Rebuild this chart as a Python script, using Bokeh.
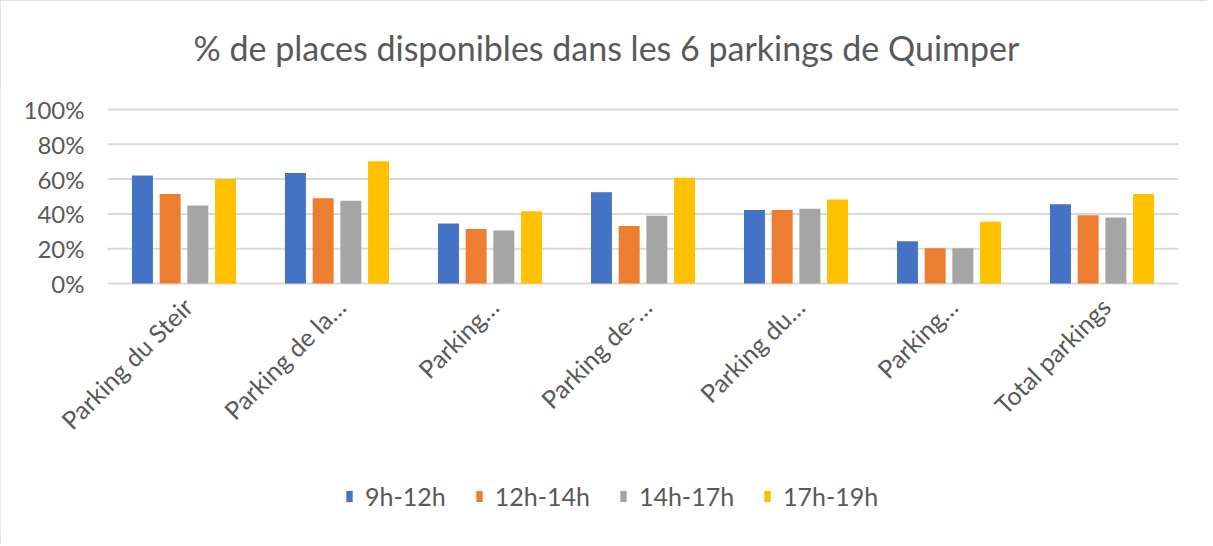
import math
from bokeh.plotting import figure
from bokeh.models import Range1d, Legend, LegendItem
from bokeh.core.properties import value
from bokeh.embed import file_html
from bokeh.resources import INLINE

title_text = "% de places disponibles dans les 6 parkings de Quimper"
categories = ["Parking du Steir", "Parking de la…", "Parking…", "Parking de-…",
              "Parking du…", "Parking…", "Total parkings"]
series_names = ["9h-12h", "12h-14h", "14h-17h", "17h-19h"]
v_9_12 = [0.62, 0.635, 0.345, 0.525, 0.423, 0.243, 0.456]
v_12_14 = [0.515, 0.49, 0.313, 0.33, 0.423, 0.203, 0.392]
v_14_17 = [0.448, 0.475, 0.305, 0.39, 0.43, 0.203, 0.38]
v_17_19 = [0.60, 0.703, 0.415, 0.608, 0.483, 0.355, 0.515]
y_ticks = [0, 0.2, 0.4, 0.6, 0.8, 1.0]
y_tick_labels = ["0%", "20%", "40%", "60%", "80%", "100%"]

colors = ["#4472C4", "#ED7D31", "#A5A5A5", "#FFC000"]
FONT = "Lato"
TXT = "#595959"
GRID = "#D9D9D9"

n = len(categories)
x_lo, x_hi = -0.5, n - 0.5
# the frame covers the whole chart area; value axis 0..1 occupies its upper part
p = figure(width=1207, height=544, output_backend="svg", toolbar_location=None,
           x_range=Range1d(x_lo - 0.6993, x_hi + 0.1895),
           y_range=Range1d(-1.4195, 1.1207),
           min_border_left=0, min_border_right=0, min_border_top=88,
           min_border_bottom=14, title=title_text)
p.styles = {"outline": "1px solid #D9D9D9", "outline-offset": "-1px"}

p.title.text_font = FONT
p.title.text_font_size = "34px"
p.title.text_font_style = "normal"
p.title.text_color = TXT
p.title.align = "left"
p.title.offset = 193
p.title.standoff = 42

p.outline_line_color = None
p.background_fill_color = "white"
p.border_fill_color = "white"
p.axis.visible = False
p.grid.grid_line_color = None

# horizontal gridlines spanning the category range
p.segment(x0=[x_lo] * len(y_ticks), x1=[x_hi] * len(y_ticks), y0=y_ticks, y1=y_ticks,
          line_color=GRID, line_width=2)

# value tick labels
p.text(x=[x_lo] * len(y_ticks), y=y_ticks, text=y_tick_labels, x_offset=-23,
       text_align="right", text_baseline="middle",
       text_font=value(FONT), text_font_size="24px", text_color=TXT)

idx = list(range(n))
bar_w = 0.137
step = 0.181
all_series = [v_9_12, v_12_14, v_14_17, v_17_19]
renderers = []
for k, (vals, col) in enumerate(zip(all_series, colors)):
    off = (k - 1.5) * step
    r = p.vbar(x=[i + off for i in idx], top=vals, bottom=0, width=bar_w,
               fill_color=col, line_color=None)
    renderers.append(r)

# category labels, rotated 45 degrees under each group
p.text(x=idx, y=[0] * n, text=categories, angle=math.pi / 4,
       text_align="right", text_baseline="top", x_offset=-7, y_offset=8,
       text_font=value(FONT), text_font_size="25px", text_color=TXT)

legend = Legend(items=[LegendItem(label=s, renderers=[r]) for s, r in zip(series_names, renderers)],
                orientation="horizontal", location=(345, 19))
legend.label_text_font = FONT
legend.label_text_font_size = "25px"
legend.label_text_color = TXT
legend.glyph_width = 8
legend.glyph_height = 14
legend.label_height = 25
legend.label_standoff = 12
legend.spacing = 29
legend.padding = 0
legend.margin = 0
legend.border_line_color = None
legend.background_fill_alpha = 0
p.add_layout(legend, "center")

open("out.html", "w").write(file_html(p, INLINE))
